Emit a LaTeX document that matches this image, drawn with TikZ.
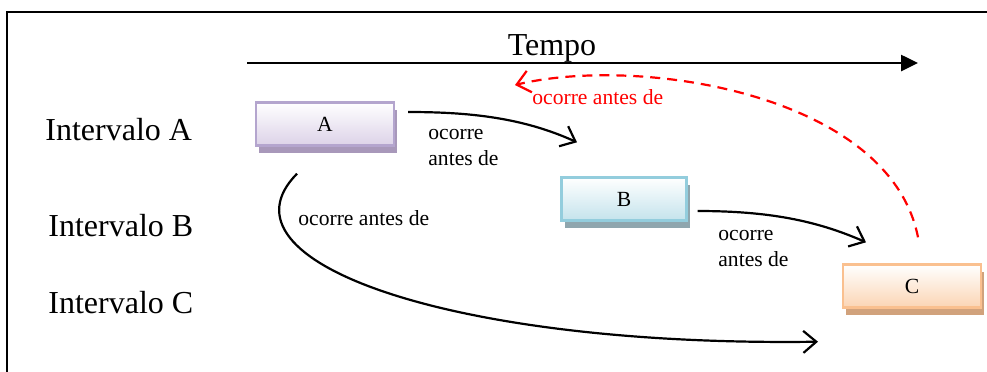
\documentclass[tikz,border=0pt]{standalone}
\usepackage{fontspec}
\setmainfont{Liberation Serif}
\usetikzlibrary{positioning,arrows.meta,shadows}

\definecolor{lineA}{HTML}{B4A5CE}
\definecolor{fillA}{HTML}{DCD2E8}
\definecolor{shadeA}{HTML}{A898BA}
\definecolor{lineB}{HTML}{93CDDD}
\definecolor{fillB}{HTML}{C4E3EC}
\definecolor{shadeB}{HTML}{8FA6AE}
\definecolor{lineC}{HTML}{FAC08F}
\definecolor{fillC}{HTML}{FBD4B4}
\definecolor{shadeC}{HTML}{D1A27C}

\begin{document}
\begin{tikzpicture}[x=0.5pt, y=-0.5pt, box/.style={draw, line width=1.2pt, minimum width=69pt, minimum height=21.5pt, top color=white, font=\fontsize{10.8}{13}\selectfont}, lab/.style={anchor=base west, inner sep=0pt, font=\fontsize{16}{19}\selectfont}, txt/.style={anchor=base west, inner sep=0pt, align=left, font=\fontsize{10.8}{12.6}\selectfont}, ar/.style={line width=1.1pt, -{Straight Barb[length=6.5pt,width=11pt]}}, sh/.style={drop shadow={shadow xshift=1.5pt, shadow yshift=-3.5pt, fill=#1, opacity=1}}]
		\useasboundingbox (0,0) rectangle (987,371);
		\draw[line width=1pt] (7,400) |- (1000,12);

		\node[lab] (IA) at (45,140) {Intervalo A};
		\node[lab] (IB) at (48,236) {Intervalo B};
		\node[lab] (IC) at (48,313) {Intervalo C};

		\coordinate (t0) at (247,63);
		\coordinate (t1) at (918,63);
		\draw[line width=1.3pt, -{Triangle[length=8.5pt,width=8pt]}] (t0) -- (t1);
		\node[lab, anchor=base] (T) at (552,55) {Tempo};

		\node[box, draw=lineA, bottom color=fillA, sh=shadeA] (A) at (325,124) {A};
		\node[box, minimum width=62.5pt, draw=lineB, bottom color=fillB, sh=shadeB] (B) at (624,199) {B};
		\node[box, draw=lineC, bottom color=fillC, sh=shadeC] (C) at (912,286) {C};
		\coordinate (R) at (515,85);

		\draw[ar] ([shift={(13,-12)}]A.east) .. controls +(60,0) and +(-55,-25) .. ([shift={(-47,-34)}]B.north);
		\draw[ar] ([shift={(10,12)}]B.east) .. controls +(70,0) and +(-50,-22) .. ([shift={(-46,-21)}]C.north);
		\draw[ar] ([shift={(-28,27)}]A.south) .. controls +(-87,88) and +(-368,5) .. ([shift={(-94,33)}]C.south);
		\draw[ar, red, dash pattern=on 5pt off 3.5pt] ([shift={(6,-26)}]C.north) .. controls +(-28,-143) and +(125,-30) .. (R);

		\node[txt] (l1) at (428,165) {ocorre\\antes de};
		\node[txt] (l2) at (718,266) {ocorre\\antes de};
		\node[txt] (l3) at (298,225) {ocorre antes de};
		\node[txt, red] (l4) at (532,104) {ocorre antes de};
	\end{tikzpicture}
\end{document}
